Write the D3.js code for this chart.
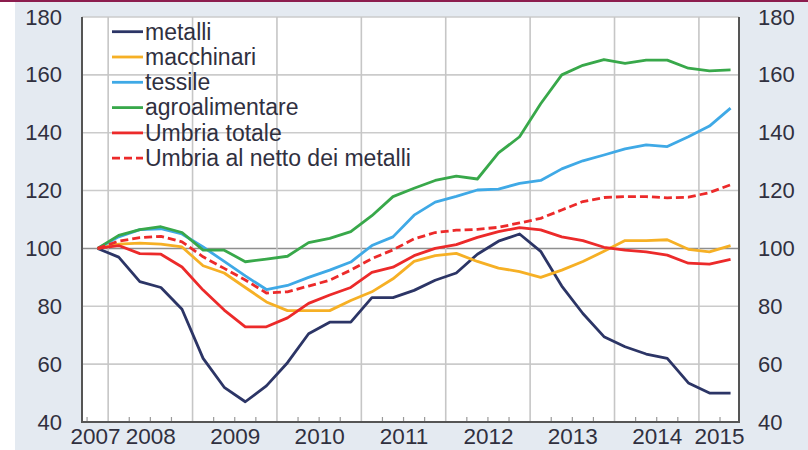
<!DOCTYPE html>
<html><head><meta charset="utf-8">
<script src="https://cdn.jsdelivr.net/npm/d3@7"></script>
<style>
body{margin:0;background:#fff;}
svg text{font-family:"Liberation Sans",Arial,sans-serif;}
</style>
</head><body>
<svg id="c" width="808" height="450"></svg>
<script>
const quarters = ["2007Q4",
  "2008Q1","2008Q2","2008Q3","2008Q4",
  "2009Q1","2009Q2","2009Q3","2009Q4",
  "2010Q1","2010Q2","2010Q3","2010Q4",
  "2011Q1","2011Q2","2011Q3","2011Q4",
  "2012Q1","2012Q2","2012Q3","2012Q4",
  "2013Q1","2013Q2","2013Q3","2013Q4",
  "2014Q1","2014Q2","2014Q3","2014Q4",
  "2015Q1","2015Q2"];
const metalli = [100, 97, 88.5, 86.5, 79, 62, 52, 47, 52.5, 60.5, 70.5, 74.5, 74.5, 83, 83, 85.5, 89, 91.5, 98, 102.5, 105, 99, 87, 77.5, 69.5, 66, 63.5, 62, 53.5, 50, 50];
const macchinari = [100, 101.5, 101.8, 101.5, 100.5, 94, 91.5, 86.5, 81.5, 78.5, 78.5, 78.5, 82, 85, 89.5, 95.5, 97.5, 98.3, 95.5, 93.2, 92, 90, 92.5, 95.5, 99, 102.7, 102.7, 103, 99.7, 98.8, 101];
const tessile = [100, 104, 106.5, 106.8, 105, 100.5, 95.5, 90.5, 85.8, 87.2, 90, 92.5, 95.3, 101, 104, 111.5, 116, 118, 120.2, 120.5, 122.5, 123.5, 127.5, 130.3, 132.3, 134.4, 135.8, 135.2, 138.6, 142.3, 148.5];
const agroalimentare = [100, 104.5, 106.5, 107.5, 105.5, 99.4, 99.4, 95.4, 96.3, 97.3, 102, 103.5, 105.8, 111.3, 117.9, 120.8, 123.5, 125, 124, 133, 138.6, 150, 160, 163.3, 165.3, 164, 165.1, 165.1, 162.3, 161.4, 161.7];
const umbriaTotale = [100, 101, 98.2, 98, 93.6, 85.6, 78.7, 72.9, 72.9, 76, 81, 83.9, 86.5, 91.7, 93.5, 97.5, 100, 101.3, 103.8, 105.8, 107.2, 106.4, 104, 102.7, 100.4, 99.4, 98.8, 97.7, 94.9, 94.6, 96.2];
const umbriaNetto = [100, 102.5, 103.7, 104.2, 102.3, 97.1, 93.1, 89.1, 84.6, 85, 87, 89, 92.5, 96.5, 99.5, 103.3, 105.5, 106.3, 106.6, 107.3, 108.8, 110.4, 113.3, 116.2, 117.6, 117.9, 117.9, 117.5, 117.7, 119.3, 122];
const seriesNames = ["metalli","macchinari","tessile","agroalimentare","Umbria totale","Umbria al netto dei metalli"];
const seriesValues = [metalli, macchinari, tessile, agroalimentare, umbriaTotale, umbriaNetto];
const seriesColors = ["#2c3566","#f6b025","#3fa9e6","#38a84a","#ec2a2a","#ec2a2a"];
const seriesDash = [null,null,null,null,null,"8,4"];
const yTicks = [40,60,80,100,120,140,160,180];
const yearLabels = ["2007","2008","2009","2010","2011","2012","2013","2014","2015"];

const W = 808, H = 450;
const m = {l:82, r:739, t:17, b:422};
const svg = d3.select("#c");

svg.append("rect").attr("x",15).attr("y",0).attr("width",W-15).attr("height",H).attr("fill","#e4eaf1");
svg.append("rect").attr("x",0).attr("y",0).attr("width",W).attr("height",2).attr("fill","#8c1d4e");

const qt = q => +q.slice(0,4) + (+q.slice(5)-1)/4 + 0.125;
const x0 = 2007.69, x1 = 2015.475;
const x = d3.scaleLinear().domain([x0, x1]).range([m.l, m.r]);
const y = d3.scaleLinear().domain([40, 180]).range([m.b, m.t]);

svg.append("rect").attr("x",m.l).attr("y",m.t).attr("width",m.r-m.l).attr("height",m.b-m.t).attr("fill","#fff");

// horizontal grid
svg.append("g").selectAll("line").data(yTicks.filter(v=>v>40)).join("line")
  .attr("x1",m.l).attr("x2",m.r).attr("y1",d=>y(d)).attr("y2",d=>y(d))
  .attr("stroke",d=>d===100?"#8f8f8f":"#cbcbcb").attr("stroke-width",1.6);

// vertical year grid
const years = d3.range(2008, 2016);
svg.append("g").selectAll("line").data(years).join("line")
  .attr("x1",d=>x(d)).attr("x2",d=>x(d)).attr("y1",m.t).attr("y2",m.b)
  .attr("stroke","#c6c6c6").attr("stroke-width",1.6);

// quarterly minor ticks
const qTicks = d3.range(2007.75, 2015.3, 0.25).filter(t => Math.abs(t - Math.round(t)) > 0.01);
svg.append("g").selectAll("line").data(qTicks).join("line")
  .attr("x1",d=>x(d)).attr("x2",d=>x(d)).attr("y1",m.b).attr("y2",m.b-5)
  .attr("stroke","#9a9a9a").attr("stroke-width",1.2);

// lines
const line = d3.line().x((d,i)=>x(qt(quarters[i]))).y(d=>y(d));
seriesValues.forEach((vals,k)=>{
  svg.append("path").datum(vals).attr("d",line).attr("fill","none")
    .attr("stroke",seriesColors[k]).attr("stroke-width",2.8)
    .attr("stroke-linejoin","round")
    .attr("stroke-dasharray",seriesDash[k]);
});

// axis frame
svg.append("path").attr("d",`M${m.l},${m.t}V${m.b}H${m.r}V${m.t}`)
  .attr("fill","none").attr("stroke","#555").attr("stroke-width",2);

const txt = "#30303f";
const styleAxis = (g, fs) => { g.select(".domain").remove(); g.selectAll("text").attr("fill",txt).style("font-size",fs+"px"); };

svg.append("g").attr("transform",`translate(${m.l},0)`)
  .call(d3.axisLeft(y).tickValues(yTicks).tickSize(0).tickPadding(20).tickFormat(d3.format("d")))
  .call(g=>styleAxis(g,22));
svg.append("g").attr("transform",`translate(${m.r},0)`)
  .call(d3.axisRight(y).tickValues(yTicks).tickSize(0).tickPadding(19).tickFormat(d3.format("d")))
  .call(g=>styleAxis(g,22));

const yearMid = yr => { const a = Math.max(+yr, x0), b = Math.min(+yr+1, x1); return (a+b)/2; };
svg.append("g").attr("transform",`translate(0,${m.b})`)
  .call(d3.axisBottom(x).tickValues(yearLabels.map(yearMid)).tickSize(0).tickPadding(6)
    .tickFormat((d,i)=>yearLabels[i]))
  .call(g=>styleAxis(g,22.5));

// legend
const lg = svg.append("g");
seriesNames.forEach((name,k)=>{
  const cy = 31.7 + 25.3*k;
  lg.append("line").attr("x1",112).attr("x2",143).attr("y1",cy).attr("y2",cy)
    .attr("stroke",seriesColors[k]).attr("stroke-width",2.8).attr("stroke-dasharray",seriesDash[k]);
  lg.append("text").attr("x",145).attr("y",cy+7.8).text(name)
    .attr("fill",txt).style("font-size","23px");
});
</script>
</body></html>
